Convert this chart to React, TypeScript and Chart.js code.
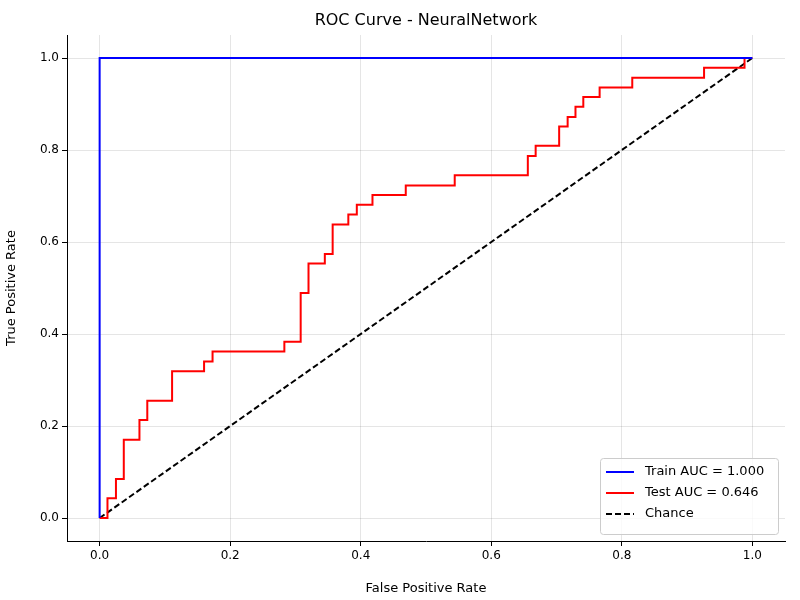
import React, { useEffect, useRef } from "react";
import { Chart, registerables } from "chart.js";
Chart.register(...registerables);

const testFpr = [0, 0.012, 0.025, 0.037, 0.061, 0.073, 0.111, 0.16, 0.173, 0.283, 0.308, 0.32, 0.345, 0.357, 0.381, 0.394, 0.418, 0.469, 0.544, 0.656, 0.668, 0.704, 0.717, 0.729, 0.741, 0.766, 0.816, 0.926, 0.988, 1.0];
const testTpr = [0, 0.043, 0.085, 0.17, 0.213, 0.255, 0.319, 0.34, 0.362, 0.383, 0.489, 0.553, 0.574, 0.638, 0.66, 0.681, 0.702, 0.723, 0.745, 0.787, 0.809, 0.851, 0.872, 0.894, 0.915, 0.936, 0.957, 0.979, 1.0, 1.0];
const trainFpr = [0, 0, 1];
const trainTpr = [0, 1, 1];
const chanceX = [0, 1];
const chanceY = [0, 1];
const tickValues = [0, 0.2, 0.4, 0.6, 0.8, 1.0];
const labels = ["Train AUC = 1.000", "Test AUC = 0.646", "Chance"];
const titleText = "ROC Curve - NeuralNetwork";

const zip = (xs: number[], ys: number[]) => xs.map((x, i) => ({ x, y: ys[i] }));
// ROC step: horizontal to next fpr, then vertical to next tpr
const steps = (xs: number[], ys: number[]) => {
  const pts: { x: number; y: number }[] = [{ x: xs[0], y: ys[0] }];
  for (let i = 1; i < xs.length; i++) {
    pts.push({ x: xs[i], y: ys[i - 1] });
    pts.push({ x: xs[i], y: ys[i] });
  }
  return pts;
};
const FONT = "'DejaVu Sans', sans-serif";

export default function App() {
  const ref = useRef<HTMLCanvasElement>(null);
  useEffect(() => {
    const overlay = {
      id: "overlay",
      afterDraw(c: any) {
        const ctx = c.ctx;
        const a = c.chartArea;
        ctx.save();
        ctx.fillStyle = "#000";
        ctx.font = `16px ${FONT}`;
        ctx.textAlign = "center";
        ctx.textBaseline = "middle";
        ctx.fillText(titleText, (a.left + a.right) / 2, 21);
        const w = 178, h = 76;
        const x0 = a.right - 7 - w, y0 = a.bottom - 7 - h;
        ctx.fillStyle = "rgba(255,255,255,0.8)";
        ctx.strokeStyle = "#ccc";
        ctx.lineWidth = 1;
        ctx.beginPath();
        ctx.roundRect(x0 + 0.5, y0 + 0.5, w, h, 3);
        ctx.fill();
        ctx.stroke();
        const cols = ["blue", "red", "black"];
        ctx.font = `13px ${FONT}`;
        ctx.textAlign = "left";
        labels.forEach((t, i) => {
          const yy = y0 + 14 + i * 21;
          ctx.strokeStyle = cols[i];
          ctx.lineWidth = 2;
          ctx.setLineDash(i === 2 ? [6, 3] : []);
          ctx.beginPath();
          ctx.moveTo(x0 + 6, yy);
          ctx.lineTo(x0 + 34, yy);
          ctx.stroke();
          ctx.fillStyle = "#000";
          ctx.fillText(t, x0 + 45, yy);
        });
        ctx.restore();
      },
    };
    const setTicks = (s: any) => { s.ticks = tickValues.map((v) => ({ value: v })); };
    const fmt = (v: any) => Number(v).toFixed(1);
    const chart = new Chart(ref.current!, {
      type: "line",
      data: {
        datasets: [
          { data: zip(trainFpr, trainTpr), borderColor: "blue", borderWidth: 2, pointRadius: 0 },
          { data: steps(testFpr, testTpr), borderColor: "red", borderWidth: 2, pointRadius: 0 },
          { data: zip(chanceX, chanceY), borderColor: "black", borderWidth: 2, borderDash: [6, 3], pointRadius: 0 },
        ],
      },
      options: {
        animation: false,
        responsive: false,
        layout: { padding: { top: 35, right: 15, left: 0, bottom: 0 } },
        plugins: { legend: { display: false }, tooltip: { enabled: false }, title: { display: false } },
        scales: {
          x: {
            type: "linear", min: -0.05, max: 1.05,
            border: { color: "#000" },
            grid: { color: "rgba(0,0,0,0.1)", tickColor: "#000", tickLength: 5 },
            afterBuildTicks: setTicks,
            ticks: { color: "#000", font: { family: FONT, size: 12 }, callback: fmt },
            title: { display: true, text: "False Positive Rate", color: "#000", font: { family: FONT, size: 13 } },
            afterFit: (s: any) => { s.height = 59; },
          },
          y: {
            type: "linear", min: -0.05, max: 1.05,
            border: { color: "#000" },
            grid: { color: "rgba(0,0,0,0.1)", tickColor: "#000", tickLength: 5 },
            afterBuildTicks: setTicks,
            ticks: { color: "#000", font: { family: FONT, size: 12 }, callback: fmt },
            title: { display: true, text: "True Positive Rate", color: "#000", font: { family: FONT, size: 13 } },
            afterFit: (s: any) => { s.width = 67; },
          },
        },
      },
      plugins: [overlay],
    });
    return () => chart.destroy();
  }, []);
  return <canvas ref={ref} width={800} height={600} style={{ position: "absolute", left: 0, top: 0 }} />;
}
